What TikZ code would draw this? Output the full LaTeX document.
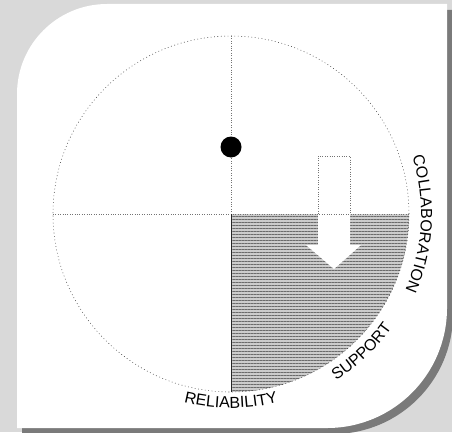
\documentclass[tikz,border=0pt]{standalone}
\usepackage{fontspec}
\newfontfamily\lblfont{Liberation Sans}
\usetikzlibrary{calc,decorations.text,patterns.meta}
\def\lf{\lblfont\fontsize{16bp}{19bp}\selectfont}
\begin{document}
\begin{tikzpicture}[x=1bp,y=1bp,
  ring/.style={draw=black!75, line width=0.55bp, dash pattern=on 0.8bp off 2.6bp},
  axisdots/.style={draw=black!55, line width=0.45bp, dash pattern=on 0.8bp off 1.6bp},
  axissolid/.style={draw=black!85, line width=0.8bp},
  shadearea/.style={fill=black!20, postaction={pattern={Lines[angle=0,distance=3bp,line width=0.9bp]}, pattern color=black!58}},
  cardshadow/.style={fill=black!52},
  card/.style={fill=white},
  stipple/.style={fill=black!15},
]
\useasboundingbox (0,0) rectangle (452,432);
\fill[stipple] (0,0) rectangle (452,432);
% shadow
\fill[cardshadow] (22,-2) -- (22,332) arc[start angle=180,end angle=90,radius=90bp] -- (453,422) -- (453,118) arc[start angle=0,end angle=-90,radius=120bp] -- cycle;
% card
\fill[card] (17,4) -- (17,338) arc[start angle=180,end angle=90,radius=90bp] -- (447,428) -- (447,124) arc[start angle=0,end angle=-90,radius=120bp] -- cycle;

\coordinate (c) at (231,218);
\coordinate (N) at ($(c)+(90:178bp)$);
\coordinate (S) at ($(c)+(-90:178bp)$);
\coordinate (E) at ($(c)+(0:178bp)$);
\coordinate (W) at ($(c)+(180:178bp)$);

% shaded quarter
\path[shadearea] (c) -- (E) arc[start angle=0,end angle=-90,radius=178bp] -- cycle;

% arrow
\fill[white] (318,276) -- (350,276) -- (350,187) -- (361,187) -- (334,163) -- (306,187) -- (318,187) -- cycle;
\draw[axisdots] (318,218) -- (318,276) -- (350,276) -- (350,218);

% circle and axes
\draw[ring] (c) circle[radius=178bp];
\draw[axisdots] (W) -- (E);
\draw[axisdots] (N) -- (c);
\draw[axissolid] (c) -- (S);

\node[circle, fill=black, minimum size=21bp, inner sep=0pt] (dot) at (231,285) {};

% labels
\path[decorate, decoration={text along path, text align=center, text={|\lf|RELIABILITY}}]
  ($(c)+(-120:194bp)$) arc[start angle=-120,end angle=-60,radius=194bp];
\path[decorate, decoration={text along path, text align=center, text={|\lf|SUPPORT}}]
  ($(c)+(-76.5:197bp)$) arc[start angle=-76.5,end angle=-16.5,radius=197bp];
\path[decorate, decoration={text along path, text align=center, text={|\lf|COLLABORATION}}]
  ($(c)+(27:190bp)$) arc[start angle=27,end angle=-33,radius=190bp];
\end{tikzpicture}
\end{document}
